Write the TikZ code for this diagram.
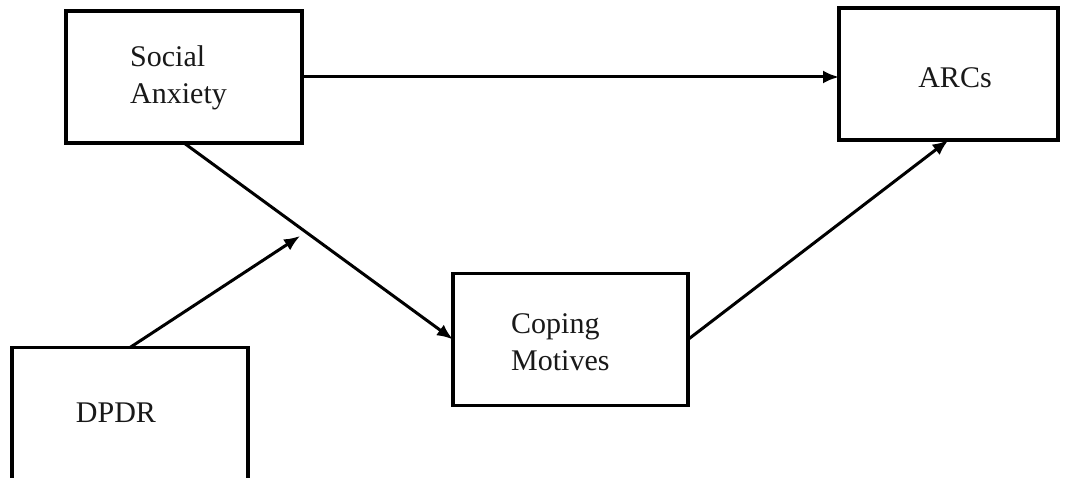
\documentclass[tikz,border=0pt]{standalone}
\usepackage{fontspec}
\setmainfont{Liberation Serif}
\usetikzlibrary{arrows.meta,calc}
\begin{document}
\begin{tikzpicture}[x=1pt,y=-1pt,
  box/.style={draw=black,line width=3.6pt,minimum width=#1,minimum height=132pt,inner sep=0pt,outer sep=0pt},
  lbl/.style={inner sep=0pt,font=\fontsize{30}{37}\selectfont,align=left,text=black!90},
  arr/.style={line width=3pt,-{Latex[length=16pt,width=13pt]}}]
\clip (0,0) rectangle (1067,478);
\useasboundingbox (0,0) rectangle (1067,478);
\fill[white] (0,0) rectangle (1067,478);
\node[box=236pt] (sa) at (184,77) {};
\node[box=219pt] (arcs) at (948.5,74) {};
\node[box=235pt] (cm) at (570.5,339.5) {};
\node[box=236pt] (dpdr) at (130,413.5) {};
\node[lbl,anchor=west] (saT) at (130,78) {Social\\Anxiety};
\node[lbl] (arcsT) at (955,78) {ARCs};
\node[lbl,anchor=west] (cmT) at (511,342) {Coping\\Motives};
\node[lbl] (dpdrT) at (116,413) {DPDR};
\draw[arr] (sa.east) -- (sa.east -| arcs.west);
\draw[arr] (sa.south) -- (cm.west);
\draw[arr] (cm.east) -- (arcs.south);
\coordinate (m) at ($(sa.south)!0.4535!(cm.west)$);
\draw[arr,shorten >=7pt] (dpdr.north) -- (m);
\end{tikzpicture}
\end{document}
